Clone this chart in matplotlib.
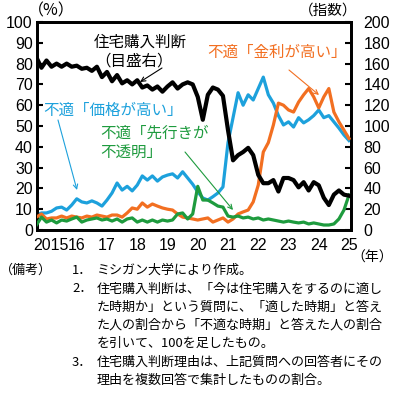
import numpy as np
import matplotlib
matplotlib.use("Agg")
import matplotlib.pyplot as plt
from matplotlib.transforms import ScaledTranslation

plt.rcParams['font.family'] = ['Noto Sans CJK JP', 'DejaVu Sans']

# ---- data (bimonthly, Sep 2014 .. Jan 2025) ----
n_points = 63
start_year = 2014
start_month = 9
t = start_year + (start_month - 1 + 2 * np.arange(n_points)) / 12.0

# Home buying conditions index (right axis)
home_index = [166, 156, 163, 157, 160, 157, 160, 157, 158, 155,
              156, 153, 157, 147, 152, 143, 149, 141, 144, 140,
              144, 137, 139, 135, 138, 133, 138, 142, 136, 140,
              142, 140, 128, 106, 130, 137, 135, 129, 96, 67,
              72, 75, 79, 72, 53, 45, 45, 48, 37, 50,
              50, 48, 41, 46, 38, 46, 43, 31, 24, 34,
              38, 34, 33]

# "Bad time: prices high" (%)
price_high = [7.2, 8.2, 8.2, 9.0, 10.6, 11.0, 9.6, 12.0, 15.0, 13.5,
              13.0, 14.0, 13.0, 11.5, 14.4, 17.8, 22.6, 19.2, 21.0, 18.8,
              21.6, 26.0, 24.0, 26.0, 23.5, 25.5, 26.4, 27.0, 25.0, 28.0,
              25.0, 22.0, 18.3, 15.4, 14.4, 16.0, 17.8, 20.7, 42.0, 54.0,
              66.0, 60.0, 65.0, 62.5, 68.0, 73.5, 65.0, 61.0, 55.0, 50.5,
              52.0, 49.5, 54.0, 51.5, 53.0, 55.0, 57.7, 54.0, 55.0, 52.0,
              49.0, 45.7, 43.0]

# "Bad time: interest rates high" (%)
rates_high = [6.2, 7.7, 5.3, 5.8, 5.8, 6.7, 5.8, 6.7, 6.2, 5.8,
              6.7, 6.2, 7.2, 6.7, 6.2, 7.2, 7.2, 6.2, 8.2, 10.6,
              10.0, 13.0, 11.0, 12.5, 11.5, 10.6, 10.0, 9.6, 7.7, 6.2,
              5.8, 5.3, 4.8, 5.3, 5.8, 3.8, 4.8, 5.8, 3.8, 5.3,
              7.7, 8.7, 9.6, 13.5, 21.6, 37.5, 42.0, 50.5, 61.0, 60.0,
              57.7, 56.7, 61.5, 65.0, 68.0, 64.0, 58.7, 64.0, 68.0, 56.7,
              52.0, 48.0, 44.0]

# "Bad time: uncertain future" (%)
uncertain = [2.4, 6.2, 3.8, 4.8, 3.4, 4.8, 4.3, 5.3, 6.2, 3.8,
             4.8, 5.3, 5.8, 4.8, 5.3, 4.3, 5.3, 3.8, 5.3, 5.8,
             3.8, 4.8, 3.8, 4.8, 3.8, 4.8, 4.3, 4.8, 7.7, 8.2,
             5.3, 7.7, 21.0, 14.4, 14.4, 13.0, 11.5, 11.0, 6.7, 6.2,
             6.7, 5.8, 6.2, 5.3, 5.8, 4.8, 5.3, 4.8, 4.3, 3.8,
             4.3, 3.8, 3.4, 3.8, 2.9, 3.4, 2.9, 2.4, 2.4, 2.9,
             5.3, 9.6, 16.8]

year_ticks = list(range(2015, 2026))
year_labels = ['2015', '16', '17', '18', '19', '20', '21', '22', '23', '24', '25']
left_ticks = list(range(0, 101, 10))
right_ticks = list(range(0, 201, 20))

BLUE = '#1DA1DC'
ORANGE = '#F26F21'
GREEN = '#1E9B3E'
BLACK = '#000000'

W, H = 394, 397
fig = plt.figure(figsize=(W / 100, H / 100), dpi=100)
L, R, B, T = 37, 351, 230, 22
ax = fig.add_axes([L / W, 1 - B / H, (R - L) / W, (B - T) / H])
ax2 = ax.twinx()

ax.plot(t, price_high, color=BLUE, lw=2.3, solid_joinstyle='round', zorder=2)
ax.plot(t, rates_high, color=ORANGE, lw=2.3, solid_joinstyle='round', zorder=3)
ax.plot(t, uncertain, color=GREEN, lw=2.3, solid_joinstyle='round', zorder=4)

x0 = 2014.686
x1 = 2025.066
ax.set_xlim(x0, x1)
ax.set_ylim(0, 100)
ax2.set_ylim(0, 200)
# black index line plotted against the right-axis scale (0-200)
ax.plot(t, home_index, color=BLACK, lw=3.0, solid_joinstyle='round', zorder=5,
        transform=ax2.transData)

ax.set_yticks(left_ticks)
ax2.set_yticks(right_ticks)
ax.set_xticks(year_ticks)
ax.set_xticklabels(year_labels)

tick_family = ['Liberation Sans', 'DejaVu Sans']
tick_size = 11.5
for lbl in ax.get_yticklabels() + ax2.get_yticklabels() + ax.get_xticklabels():
    lbl.set_fontfamily(tick_family)
    lbl.set_fontsize(tick_size)

ax.tick_params(axis='y', direction='in', length=4, width=1.5, pad=3)
ax2.tick_params(axis='y', direction='in', length=4, width=1.5, pad=9)
ax.tick_params(axis='x', length=0, pad=6)

# shift '2015' label right a little
first = ax.get_xticklabels()[0]
first.set_transform(first.get_transform() + ScaledTranslation(0.045, 0, fig.dpi_scale_trans))

for a in (ax, ax2):
    for s in a.spines.values():
        s.set_linewidth(2.0)
        s.set_color('black')

ax.set_zorder(ax2.get_zorder() + 1)
ax.patch.set_visible(False)


def px(x):
    return 2015 + (x - 46.5) / 30.25


def py(y):
    return (230 - y) / 2.08


jp = 11.2
ax.text(px(140), py(42), '住宅購入判断', ha='center', va='center', fontsize=jp, color='black', zorder=10)
ax.text(px(134), py(61), '（目盛右）', ha='center', va='center', fontsize=jp, color='black', zorder=10)
ax.text(px(113.5), py(110), '不適「価格が高い」', ha='center', va='center', fontsize=jp, color=BLUE, zorder=10)
ax.text(px(277.5), py(52), '不適「金利が高い」', ha='center', va='center', fontsize=jp, color=ORANGE, zorder=10)
ax.text(px(100), py(133), '不適「先行きが', ha='left', va='center', fontsize=jp, color=GREEN, zorder=10)
ax.text(px(100), py(152), '不透明」', ha='left', va='center', fontsize=jp, color=GREEN, zorder=10)

arrowkw = dict(arrowstyle='->', lw=0.8, shrinkA=0, shrinkB=0, mutation_scale=8)
ax.annotate('', xy=(px(77), py(190)), xytext=(px(58), py(120)),
            arrowprops=dict(color=BLUE, **arrowkw), zorder=10)
ax.annotate('', xy=(px(140), py(82)), xytext=(px(162), py(68)),
            arrowprops=dict(color=BLACK, **arrowkw), zorder=10)
ax.annotate('', xy=(px(319), py(95)), xytext=(px(289), py(70)),
            arrowprops=dict(color=ORANGE, **arrowkw), zorder=10)
ax.annotate('', xy=(px(233), py(210)), xytext=(px(185), py(152)),
            arrowprops=dict(color=GREEN, **arrowkw), zorder=10)


def ft(x, y, s, **kw):
    fig.text(x / W, 1 - y / H, s, va='center', **kw)


ft(51, 11, '（%）', ha='center', fontsize=11.5)
ft(328, 11, '（指数）', ha='center', fontsize=10.5)
ft(393, 258, '（年）', ha='right', fontsize=10)

fn = 9.4
ft(0, 270, '（備考）', ha='left', fontsize=fn)
ft(72, 270, '1．', ha='left', fontsize=fn)
ft(97, 270, 'ミシガン大学により作成。', ha='left', fontsize=fn)
ft(72, 289, '2．', ha='left', fontsize=fn)
ft(97, 289, '住宅購入判断は、「今は住宅購入をするのに適し', ha='left', fontsize=fn)
ft(97, 307, 'た時期か」という質問に、「適した時期」と答え', ha='left', fontsize=fn)
ft(97, 325, 'た人の割合から「不適な時期」と答えた人の割合', ha='left', fontsize=fn)
ft(97, 343, 'を引いて、100を足したもの。', ha='left', fontsize=fn)
ft(72, 362, '3．', ha='left', fontsize=fn)
ft(97, 362, '住宅購入判断理由は、上記質問への回答者にその', ha='left', fontsize=fn)
ft(97, 380, '理由を複数回答で集計したものの割合。', ha='left', fontsize=fn)

fig.savefig('out.png', dpi=100)
